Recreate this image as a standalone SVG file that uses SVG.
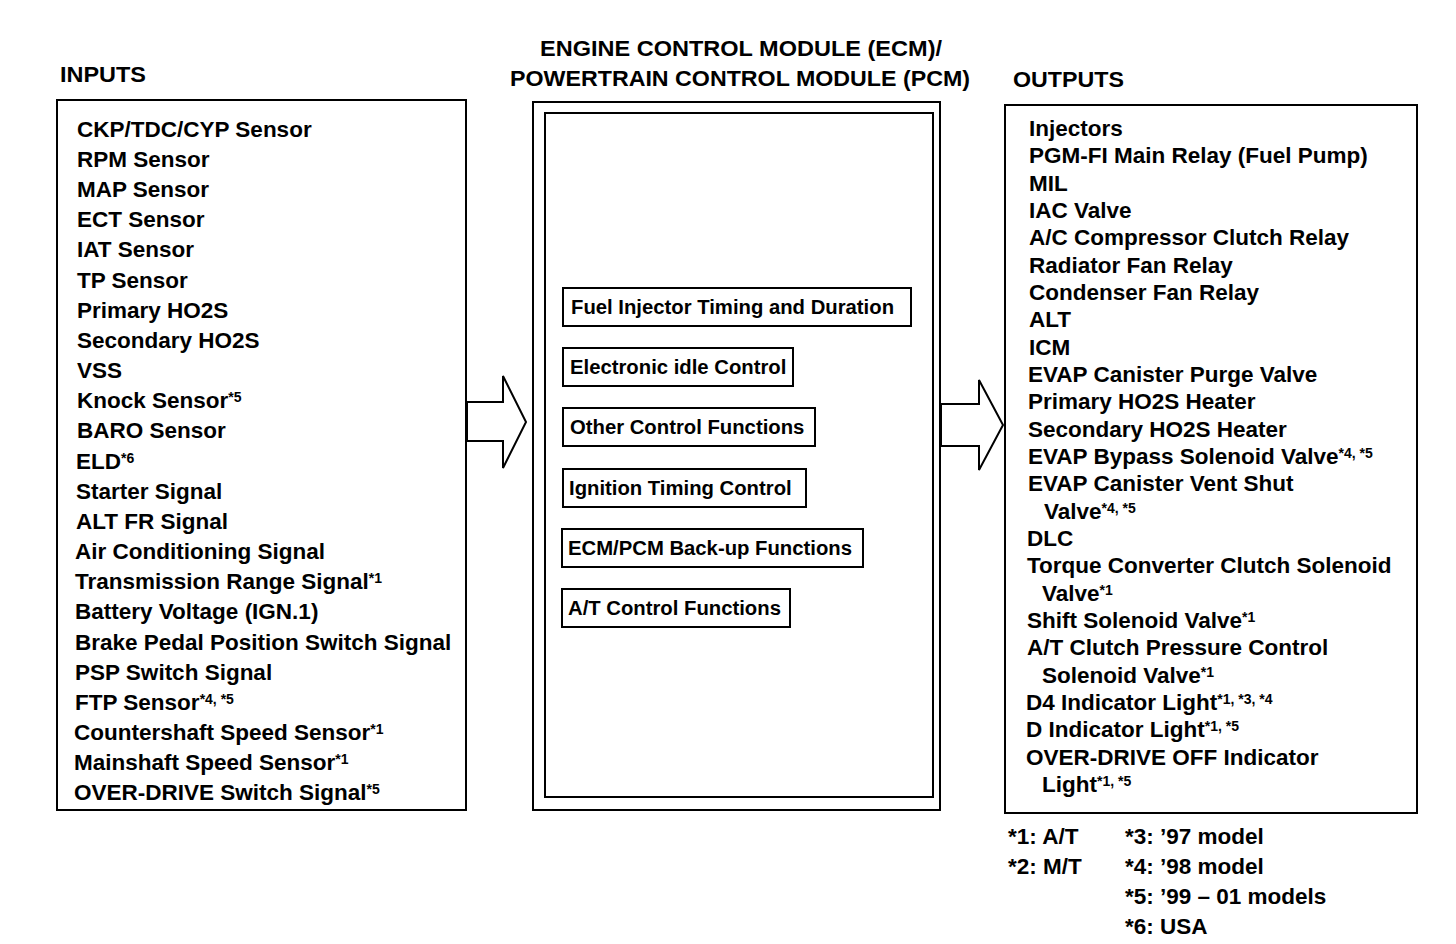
<svg xmlns="http://www.w3.org/2000/svg" width="1456" height="944" viewBox="0 0 1456 944">
<style>
.t{font-family:"Liberation Sans",Arial,sans-serif;font-weight:bold;font-size:22.5px;fill:#000}
.m{font-family:"Liberation Sans",Arial,sans-serif;font-weight:bold;font-size:20.3px;fill:#000}
.h{font-family:"Liberation Sans",Arial,sans-serif;font-weight:bold;font-size:22.5px;fill:#000}
.s{font-size:14px}
.box{fill:#fff;stroke:#000;stroke-width:2}
.sb{fill:#fff;stroke:#000;stroke-width:2}
.ar{fill:#fff;stroke:#000;stroke-width:2;stroke-linejoin:miter}
</style>
<rect width="1456" height="944" fill="#fff"/>
<g id="titles">
<text class="h" x="60" y="82" textLength="86" lengthAdjust="spacingAndGlyphs">INPUTS</text>
<text class="h" x="540" y="56" textLength="402" lengthAdjust="spacingAndGlyphs">ENGINE CONTROL MODULE (ECM)/</text>
<text class="h" x="510" y="86" textLength="460" lengthAdjust="spacingAndGlyphs">POWERTRAIN CONTROL MODULE (PCM)</text>
<text class="h" x="1013" y="87" textLength="111" lengthAdjust="spacingAndGlyphs">OUTPUTS</text>
</g>
<g id="inputs">
<rect class="box" x="57" y="100" width="409" height="710"/>
<text class="t" x="77" y="137">CKP/TDC/CYP Sensor</text>
<text class="t" x="77" y="167">RPM Sensor</text>
<text class="t" x="77" y="197">MAP Sensor</text>
<text class="t" x="77" y="227">ECT Sensor</text>
<text class="t" x="77" y="257">IAT Sensor</text>
<text class="t" x="77" y="288">TP Sensor</text>
<text class="t" x="77" y="318">Primary HO2S</text>
<text class="t" x="77" y="348">Secondary HO2S</text>
<text class="t" x="77" y="378">VSS</text>
<text class="t" x="77" y="408">Knock Sensor<tspan class="s" dy="-6">*5</tspan></text>
<text class="t" x="77" y="438">BARO Sensor</text>
<text class="t" x="76" y="469">ELD<tspan class="s" dy="-6">*6</tspan></text>
<text class="t" x="76" y="499">Starter Signal</text>
<text class="t" x="76" y="529">ALT FR Signal</text>
<text class="t" x="75" y="559">Air Conditioning Signal</text>
<text class="t" x="75" y="589">Transmission Range Signal<tspan class="s" dy="-6">*1</tspan></text>
<text class="t" x="75" y="619">Battery Voltage (IGN.1)</text>
<text class="t" x="75" y="650">Brake Pedal Position Switch Signal</text>
<text class="t" x="75" y="680">PSP Switch Signal</text>
<text class="t" x="75" y="710">FTP Sensor<tspan class="s" dy="-6">*4, *5</tspan></text>
<text class="t" x="74" y="740">Countershaft Speed Sensor<tspan class="s" dy="-6">*1</tspan></text>
<text class="t" x="74" y="770">Mainshaft Speed Sensor<tspan class="s" dy="-6">*1</tspan></text>
<text class="t" x="74" y="800">OVER-DRIVE Switch Signal<tspan class="s" dy="-6">*5</tspan></text>
</g>
<g id="ecm">
<rect class="box" x="533" y="102" width="407" height="708"/>
<rect class="box" x="545" y="113" width="388" height="684"/>
</g>
<g id="fn1"><rect class="sb" x="563" y="288" width="348" height="38"/><text class="m" x="571" y="314">Fuel Injector Timing and Duration</text></g>
<g id="fn2"><rect class="sb" x="563" y="348" width="230" height="38"/><text class="m" x="570" y="374">Electronic idle Control</text></g>
<g id="fn3"><rect class="sb" x="563" y="408" width="252" height="38"/><text class="m" x="570" y="434">Other Control Functions</text></g>
<g id="fn4"><rect class="sb" x="563" y="469" width="243" height="38"/><text class="m" x="569" y="495">Ignition Timing Control</text></g>
<g id="fn5"><rect class="sb" x="562" y="529" width="301" height="38"/><text class="m" x="568" y="555">ECM/PCM Back-up Functions</text></g>
<g id="fn6"><rect class="sb" x="562" y="589" width="228" height="38"/><text class="m" x="568" y="615">A/T Control Functions</text></g>
<g id="connectors">
<polygon class="ar" points="467,402 503,402 503,376 526,422 503,468 503,441 467,441"/>
<polygon class="ar" points="941,404 979,404 979,380 1003,425 979,470 979,446 941,446"/>
</g>
<g id="outputs">
<rect class="box" x="1005" y="105" width="412" height="708"/>
<text class="t" x="1029" y="136">Injectors</text>
<text class="t" x="1029" y="163">PGM-FI Main Relay (Fuel Pump)</text>
<text class="t" x="1029" y="191">MIL</text>
<text class="t" x="1029" y="218">IAC Valve</text>
<text class="t" x="1029" y="245">A/C Compressor Clutch Relay</text>
<text class="t" x="1029" y="273">Radiator Fan Relay</text>
<text class="t" x="1029" y="300">Condenser Fan Relay</text>
<text class="t" x="1029" y="327">ALT</text>
<text class="t" x="1029" y="355">ICM</text>
<text class="t" x="1028" y="382">EVAP Canister Purge Valve</text>
<text class="t" x="1028" y="409">Primary HO2S Heater</text>
<text class="t" x="1028" y="437">Secondary HO2S Heater</text>
<text class="t" x="1028" y="464">EVAP Bypass Solenoid Valve<tspan class="s" dy="-6">*4, *5</tspan></text>
<text class="t" x="1028" y="491">EVAP Canister Vent Shut</text>
<text class="t" x="1044" y="519">Valve<tspan class="s" dy="-6">*4, *5</tspan></text>
<text class="t" x="1027" y="546">DLC</text>
<text class="t" x="1027" y="573">Torque Converter Clutch Solenoid</text>
<text class="t" x="1042" y="601">Valve<tspan class="s" dy="-6">*1</tspan></text>
<text class="t" x="1027" y="628">Shift Solenoid Valve<tspan class="s" dy="-6">*1</tspan></text>
<text class="t" x="1027" y="655">A/T Clutch Pressure Control</text>
<text class="t" x="1042" y="683">Solenoid Valve<tspan class="s" dy="-6">*1</tspan></text>
<text class="t" x="1026" y="710">D4 Indicator Light<tspan class="s" dy="-6">*1, *3, *4</tspan></text>
<text class="t" x="1026" y="737">D Indicator Light<tspan class="s" dy="-6">*1, *5</tspan></text>
<text class="t" x="1026" y="765">OVER-DRIVE OFF Indicator</text>
<text class="t" x="1042" y="792">Light<tspan class="s" dy="-6">*1, *5</tspan></text>
</g>
<g id="legend">
<text class="t" x="1008" y="844">*1: A/T</text>
<text class="t" x="1008" y="874">*2: M/T</text>
<text class="t" x="1125" y="844">*3: ’97 model</text>
<text class="t" x="1125" y="874">*4: ’98 model</text>
<text class="t" x="1125" y="904">*5: ’99 – 01 models</text>
<text class="t" x="1125" y="934">*6: USA</text>
</g>
</svg>
